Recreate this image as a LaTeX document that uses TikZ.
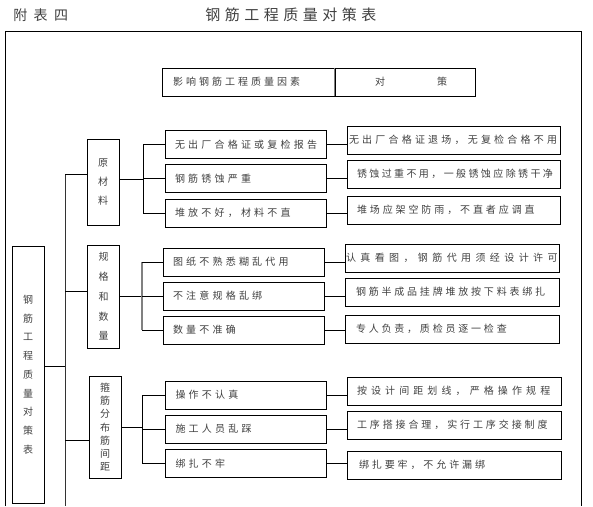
\documentclass[tikz,border=0pt]{standalone}
\usepackage{fontspec}
\setmainfont{Noto Sans CJK SC}

\begin{document}
\begin{tikzpicture}[x=1pt,y=-1pt,line width=0.9pt,
	txt/.style={font=\fontsize{10}{12}\selectfont\addfontfeature{LetterSpace=#1},text=black!75},
	cause/.style={draw,inner xsep=10,inner ysep=0,text width=141,minimum height=28,align=left,txt=32},
	meas/.style n args={3}{draw,inner ysep=0,minimum height=28,align=left,txt=#1,inner xsep=#2,text width=#3},
	cat/.style={draw,minimum width=32,inner sep=0,align=center,text=black!75}]
	\useasboundingbox (0,0) rectangle (593,506);

	% titel en kader
	\node[anchor=west,inner sep=0,text=black!75,font=\fontsize{14}{16}\selectfont\addfontfeature{LetterSpace=45}] (tag) at (13,15) {附表四};
	\node[anchor=west,inner sep=0,text=black!75,font=\fontsize{15}{17}\selectfont\addfontfeature{LetterSpace=30}] (title) at (205,15) {钢筋工程质量对策表};
	\draw (5,506) -- (5,31) -- (581,31) -- (581,506);

	\node[draw,inner xsep=11,inner ysep=0,text width=151,minimum height=28,align=left,txt=30] (hdrL) at (248.5,82) {影响钢筋工程质量因素};
	\node[draw,inner ysep=0,minimum width=140,minimum height=28,txt=0] (hdrR) at (405,82) {\hspace{12pt}\mbox{对\hspace{52pt}策}};
	\draw[gray,line width=1.3pt] (hdrR.north west) -- (hdrR.south west);

	% hoofdvak en stam
	\node[cat,minimum height=257,font=\fontsize{10}{18.75}\selectfont] (main) at (28,374.5) {钢\\筋\\工\\程\\质\\量\\对\\策\\表};
	\coordinate (trunkTop) at (65,174);
	\coordinate (trunkBot) at (65,506);
	\draw[black!80] (trunkTop) -- (trunkBot);
	\draw ([yshift=8.5pt]main.east) -- ([yshift=8.5pt]main.east -| trunkTop);

	% groep 1
	\node[cat,minimum height=86,font=\fontsize{10}{19}\selectfont] (cat1) at (103,182) {原\\材\\料};
	\node[cause] (c11) at (245.5,144.5) {无出厂合格证或复检报告};
	\node[cause] (c12) at (245.5,178.5) {钢筋锈蚀严重};
	\node[cause] (c13) at (245.5,213) {堆放不好，材料不直};
	\node[meas={32}{2}{209}] (m11) at (453.5,140) {无出厂合格证退场，无复检合格不用};
	\node[meas={24}{10}{193}] (m12) at (453.5,174) {锈蚀过重不用，一般锈蚀应除锈干净};
	\node[meas={29}{10}{193}] (m13) at (453.5,210) {堆场应架空防雨，不直者应调直};
	\coordinate (br1) at (143,0);

	% groep 2
	\node[cat,minimum height=103,font=\fontsize{10}{19.7}\selectfont] (cat2) at (103.5,296.5) {规\\格\\和\\数\\量};
	\node[cause] (c21) at (243.5,262) {图纸不熟悉糊乱代用};
	\node[cause] (c22) at (243.5,296) {不注意规格乱绑};
	\node[cause] (c23) at (243.5,330) {数量不准确};
	\node[meas={44}{1}{212}] (m21) at (452,258) {认真看图，钢筋代用须经设计许可};
	\node[meas={28}{11}{192}] (m22) at (452,292) {钢筋半成品挂牌堆放按下料表绑扎};
	\node[meas={28}{11}{192}] (m23) at (452,329) {专人负责，质检员逐一检查};
	\coordinate (br2) at (142,0);

	% groep 3
	\node[cat,minimum height=102,font=\fontsize{10}{13.2}\selectfont] (cat3) at (105,427) {箍\\筋\\分\\布\\筋\\间\\距};
	\node[cause] (c31) at (246,395) {操作不认真};
	\node[cause] (c32) at (246,429) {施工人员乱踩};
	\node[cause] (c33) at (246,463.5) {绑扎不牢};
	\node[meas={41}{10}{194}] (m31) at (454,391) {按设计间距划线，严格操作规程};
	\node[meas={29}{10}{194}] (m32) at (454,425) {工序搭接合理，实行工序交接制度};
	\node[meas={29}{12}{190}] (m33) at (454,465) {绑扎要牢，不允许漏绑};
	\coordinate (br3) at (142,0);

	% verbindingen
	\draw ([yshift=8pt]cat1.west) -- ([yshift=8pt]cat1.west -| trunkTop);
	\draw ([yshift=5.5pt]cat2.west) -- ([yshift=5.5pt]cat2.west -| trunkTop);
	\draw ([yshift=-13pt]cat3.west) -- ([yshift=-13pt]cat3.west -| trunkTop);

	\draw ([yshift=3pt]cat1.east) -- ([yshift=3pt]cat1.east -| br1);
	\draw (c11.west -| br1) -- (c13.west -| br1);
	\draw (cat2.east) -- (cat2.east -| br2);
	\draw[gray,line width=1.5pt] (c21.west -| br2) -- (c23.west -| br2);
	\draw (cat3.east) -- (cat3.east -| br3);
	\draw (c31.west -| br3) -- (c33.west -| br3);

	\foreach \g in {1,2,3}{
		\foreach \i in {1,2,3}{
			\draw (c\g\i.west -| br\g) -- (c\g\i.west);
			\draw (c\g\i.east) -- (c\g\i.east -| m\g\i.west);
		}
	}
\end{tikzpicture}
\end{document}
